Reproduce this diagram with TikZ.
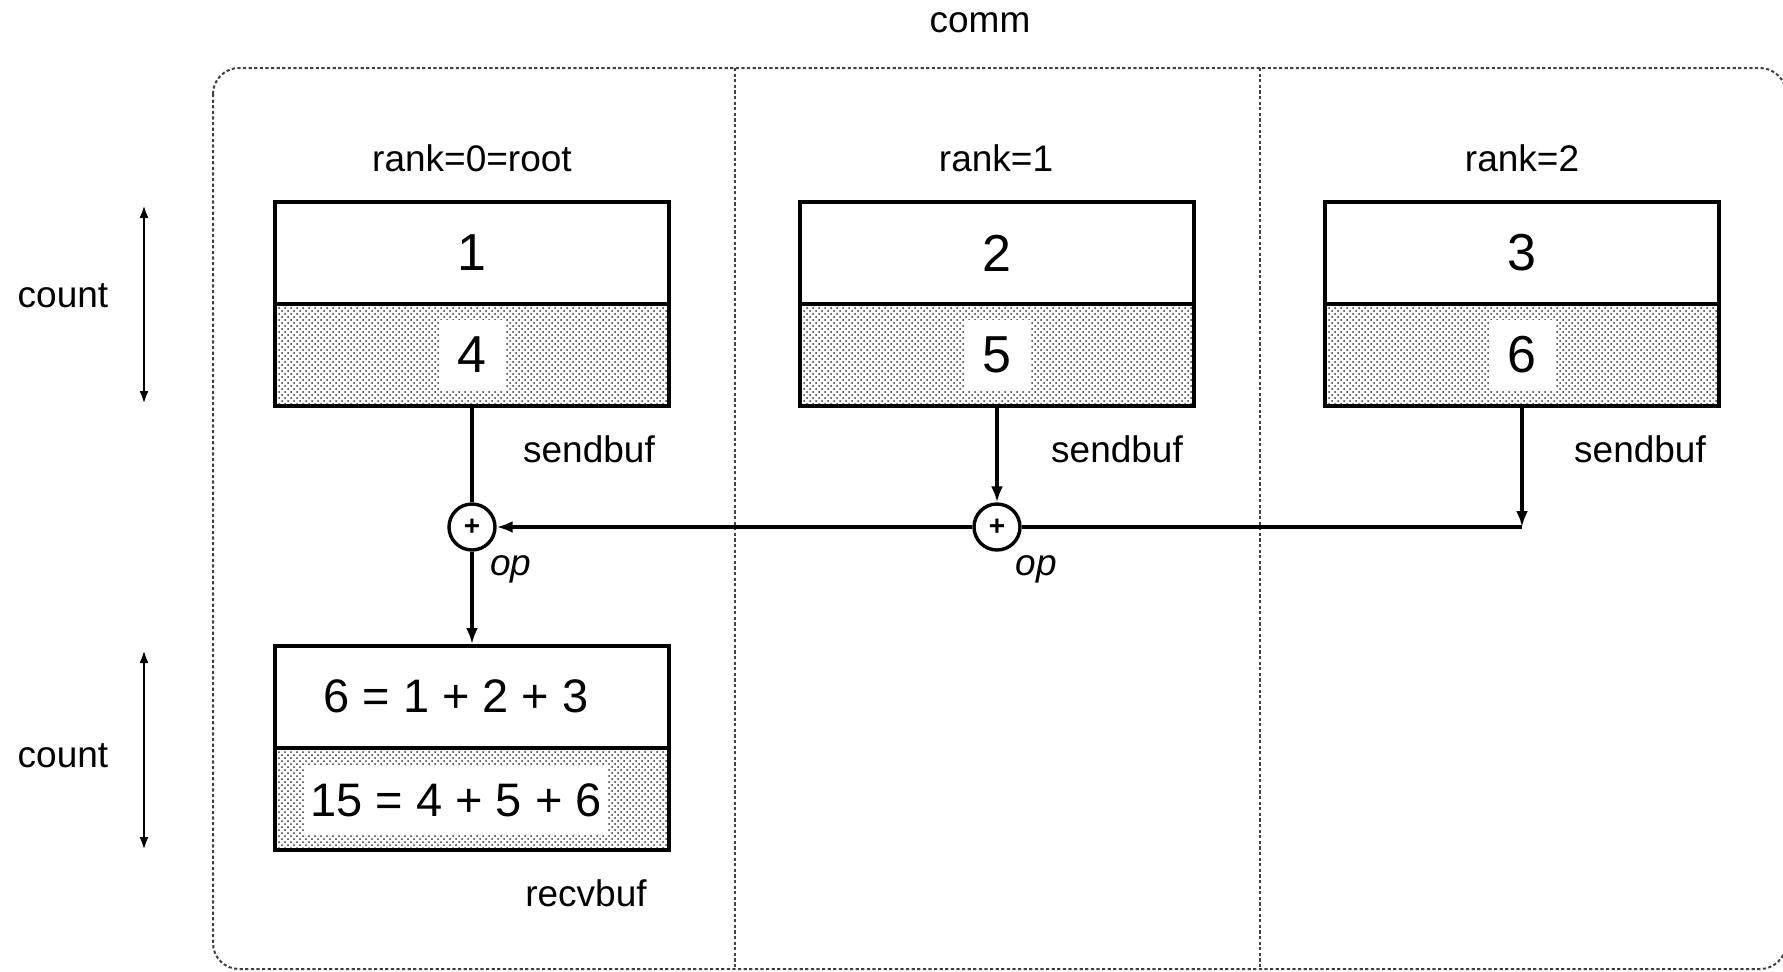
\documentclass[tikz,border=0pt]{standalone}
\usepackage{fontspec}
\setmainfont{Liberation Sans}
\usetikzlibrary{arrows.meta,patterns}
\begin{document}
\begin{tikzpicture}[x=0.5pt,y=-0.5pt,
  lbl/.style={font=\fontsize{18.5}{20}\selectfont, inner sep=0pt},
  num/.style={font=\fontsize{26}{28}\selectfont, inner sep=0pt},
  eqn/.style={font=\fontsize{23.5}{26}\selectfont, inner sep=0pt},
  tophalf/.style={draw=black, line width=2pt, fill=white, minimum width=197pt, minimum height=51pt, inner sep=0pt},
  bothalf/.style={draw=black, line width=2pt, pattern=crosshatch dots, pattern color=black!80, minimum width=197pt, minimum height=51pt, inner sep=0pt},
  patch/.style={fill=white, minimum width=33pt, minimum height=35pt, inner sep=0pt},
  opnode/.style={circle, draw=black, line width=1.7pt, fill=white, minimum size=23pt, inner sep=0pt, font=\fontsize{14}{15}\selectfont\bfseries},
  conn/.style={draw=black, line width=1.7pt},
  arr/.style={-{Latex[length=8pt,width=6pt]}},
  dbl/.style={{Latex[length=6.5pt,width=4.5pt]}-{Latex[length=6.5pt,width=4.5pt]}},
  frame/.style={draw=black!75, line width=1pt, dash pattern=on 1.6pt off 1.2pt}
]
\useasboundingbox (0,0) rectangle (1783,971);
\clip (0,0) rectangle (1783,971);

% communicator frame and dividers
\draw[frame, rounded corners=13pt] (213,68) rectangle (1786,969);
\draw[frame] (735,68) -- (735,969);
\draw[frame] (1260,68) -- (1260,969);

\node[lbl] (comm) at (980,23) {comm};

% rank labels
\node[lbl] (r0) at (472,158) {rank=0=root};
\node[lbl] (r1) at (996,158) {rank=1};
\node[lbl] (r2) at (1522,158) {rank=2};

% send buffers
\node[tophalf] (b0t) at (472,253) {};
\node[num] (v0t) at (b0t) {1};
\node[bothalf] (b0b) at (472,355) {};
\node[patch] (w0) at (b0b) {};
\node[num] (v0b) at (b0b) {4};

\node[tophalf] (b1t) at (997,253) {};
\node[num] (v1t) at (b1t) {2};
\node[bothalf] (b1b) at (997,355) {};
\node[patch] (w1) at (b1b) {};
\node[num] (v1b) at (b1b) {5};

\node[tophalf] (b2t) at (1522,253) {};
\node[num] (v2t) at (b2t) {3};
\node[bothalf] (b2b) at (1522,355) {};
\node[patch] (w2) at (b2b) {};
\node[num] (v2b) at (b2b) {6};

\node[lbl] (s0) at (589,449) {sendbuf};
\node[lbl] (s1) at (1117,449) {sendbuf};
\node[lbl] (s2) at (1640,449) {sendbuf};

% receive buffer
\node[tophalf] (rt) at (472,697) {};
\node[eqn] (rvt) at (456,696) {6 = 1 + 2 + 3};
\node[bothalf] (rb) at (472,799) {};
\node[eqn, fill=white, inner xsep=3pt, minimum height=34pt] (rvb) at (456,800) {15 = 4 + 5 + 6};
\node[lbl] (rl) at (586,893) {recvbuf};

% operators
\node[opnode] (p0) at (472,527) {+};
\node[opnode] (p1) at (997,527) {+};
\node[lbl, font=\fontsize{18.5}{20}\selectfont\itshape] (o0) at (511,569) {op};
\node[lbl, font=\fontsize{18.5}{20}\selectfont\itshape] (o1) at (1036,569) {op};

% connectors
\coordinate (c2) at (1522,527);
\draw[conn] (b0b.south) -- (p0.north);
\draw[conn, arr] (p0.south) -- (rt.north);
\draw[conn, arr] (b1b.south) -- (p1.north);
\draw[conn, arr] (p1.west) -- (p0.east);
\draw[conn, arr] (b2b.south) -- (c2);
\draw[conn] (c2) -- (p1.east);

% count labels and arrows
\node[lbl] (cnt1) at (63,296) {count};
\node[lbl] (cnt2) at (63,756) {count};
\coordinate (a1t) at (144,205);
\coordinate (a1b) at (144,404);
\coordinate (a2t) at (144,650);
\coordinate (a2b) at (144,850);
\draw[conn, line width=1.3pt, dbl] (a1t) -- (a1b);
\draw[conn, line width=1.3pt, dbl] (a2t) -- (a2b);
\end{tikzpicture}
\end{document}
